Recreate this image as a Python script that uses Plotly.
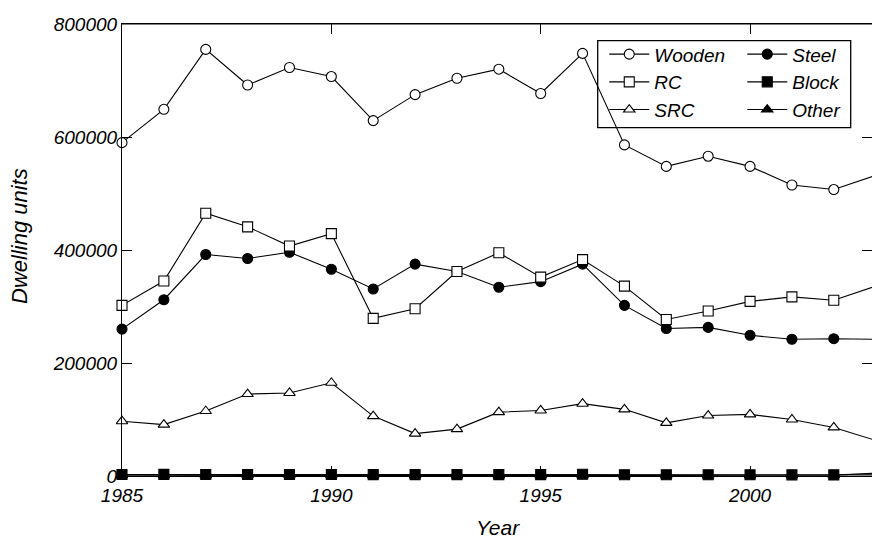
import plotly.graph_objects as go

years = list(range(1985, 2004))
wooden = [590000, 649000, 755000, 692000, 723000, 707000, 629000, 675000, 704000, 720000,
          677000, 748000, 586000, 548000, 566000, 548000, 515000, 507000, 532000]
rc = [302000, 345000, 465000, 441000, 407000, 429000, 279000, 296000, 362000, 395000,
      352000, 383000, 336000, 277000, 292000, 309000, 317000, 311000, 336000]
src = [97000, 91000, 115000, 145000, 147000, 165000, 106000, 75000, 83000, 113000,
       116000, 128000, 118000, 94000, 107000, 109000, 100000, 86000, 63000]
steel = [260000, 312000, 392000, 385000, 396000, 366000, 331000, 375000, 362000, 334000,
         344000, 375000, 302000, 261000, 263000, 249000, 242000, 243000, 242000]
block = [2600, 2800, 2700, 2700, 2600, 2600, 2500, 2500, 2400, 2400,
         2400, 3000, 2300, 2200, 2200, 2100, 2000, 2000, 2000]
other = [1200, 1300, 1300, 1200, 1200, 1200, 1100, 1100, 1100, 1000,
         1000, 1000, 1000, 1000, 1000, 1100, 1200, 1500, 5000]

y_ticks = [0, 200000, 400000, 600000, 800000]
y_labels = ["0", "200000", "400000", "600000", "800000"]
x_ticks = [1985, 1990, 1995, 2000]
x_labels = ["1985", "1990", "1995", "2000"]

FONT = "Liberation Sans, Arial, sans-serif"

fig = go.Figure()

def add(name, ys, symbol, fill, legend):
    fig.add_trace(go.Scatter(
        x=years, y=ys, name=name, mode="lines+markers",
        line=dict(color="black", width=1.1),
        marker=dict(symbol=symbol, size=10, color=fill,
                    line=dict(color="black", width=1.1)),
        legend=legend, cliponaxis=False,
    ))

# order: drawn under first
add("Other", other, "triangle-up", "black", "legend2")
add("Block", block, "square", "black", "legend2")
add("SRC", src, "triangle-up", "white", "legend")
add("Steel", steel, "circle", "black", "legend2")
add("RC", rc, "square", "white", "legend")
add("Wooden", wooden, "circle", "white", "legend")

leg_common = dict(
    bgcolor="rgba(0,0,0,0)", borderwidth=0, traceorder="reversed",
    font=dict(family=FONT, size=19, color="black", style="italic"),
    xanchor="left", yanchor="top", itemwidth=40,
)

fig.update_layout(
    width=872, height=543,
    margin=dict(l=122, r=0, t=24, b=67, pad=0),
    paper_bgcolor="white", plot_bgcolor="white",
    font=dict(family=FONT, size=19, color="black", style="italic"),
    showlegend=True,
    legend=dict(x=0.643, y=0.975, **leg_common),
    legend2=dict(x=0.827, y=0.975, **leg_common),
    xaxis=dict(
        range=[1985, 1985 + 750 / 41.87], showgrid=False, zeroline=False,
        showline=True, linecolor="black", linewidth=1.2, mirror="ticks",
        ticks="inside", ticklen=10, tickwidth=1, tickcolor="black",
        tickvals=x_ticks, ticktext=x_labels, ticklabelstandoff=2,
        tickfont=dict(family=FONT, size=19, style="italic"),
    ),
    yaxis=dict(
        range=[0, 800000], showgrid=False, zeroline=False,
        showline=True, linecolor="black", linewidth=1.2, mirror="ticks",
        ticks="inside", ticklen=10, tickwidth=1, tickcolor="black",
        tickvals=y_ticks, ticktext=y_labels,
        tickfont=dict(family=FONT, size=19, style="italic"),
    ),
    shapes=[
        dict(type="line", xref="paper", yref="paper", x0=0, x1=1, y0=1, y1=1,
             line=dict(color="black", width=1.2)),
        dict(type="rect", xref="paper", yref="paper",
             x0=(597.7 - 122) / 750, x1=(850.7 - 122) / 750,
             y0=(476 - 127.7) / 452, y1=(476 - 40.7) / 452,
             line=dict(color="black", width=1.3), fillcolor="rgba(0,0,0,0)"),
    ],
    annotations=[
        dict(text="Dwelling units", xref="paper", yref="paper",
             x=(20 - 122) / 750, y=(476 - 236) / 452, textangle=-90,
             showarrow=False, xanchor="center", yanchor="middle",
             font=dict(family=FONT, size=22, style="italic")),
        dict(text="Year", xref="paper", yref="paper",
             x=(498 - 122) / 750, y=(476 - 527) / 452,
             showarrow=False, xanchor="center", yanchor="middle",
             font=dict(family=FONT, size=21, style="italic")),
    ],
)

fig.write_html("out.html")
